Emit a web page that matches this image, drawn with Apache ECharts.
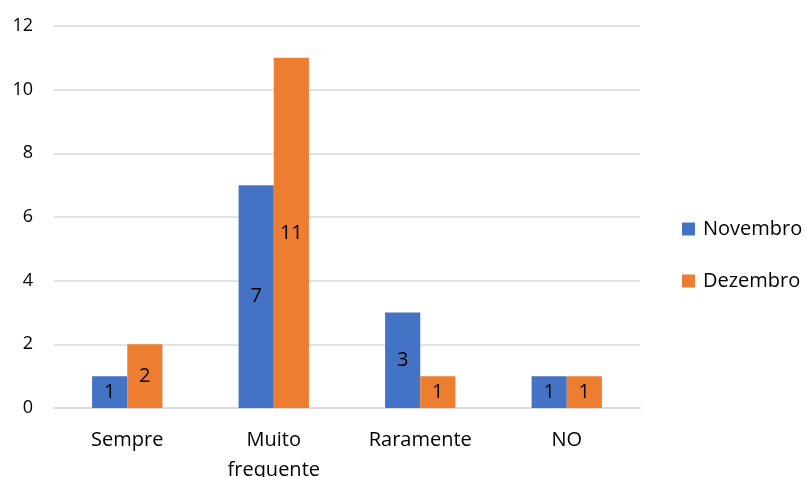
<!DOCTYPE html>
<html><head><meta charset="utf-8">
<script src="https://cdn.jsdelivr.net/npm/echarts@6/dist/echarts.min.js"></script>
<style>html,body{margin:0;padding:0;background:#fff}#c{width:807px;height:477px}</style>
</head><body><div id="c"></div>
<script>
const categories = ['Sempre', 'Muito\nfrequente', 'Raramente', 'NO'];
const novembro = [1, 7, 3, 1];
const dezembro = [2, 11, 1, 1];
const yTicks = {min: 0, max: 12, interval: 2};

const font = '"Open Sans", "Noto Sans", sans-serif';
const chart = echarts.init(document.getElementById('c'));
const labelCfg = {show: true, position: 'inside', color: '#000', fontSize: 20, fontFamily: font};
chart.setOption({
  animation: false,
  textStyle: {fontFamily: font},
  grid: {left: 54, right: 167, top: 26, bottom: 69, containLabel: false, outerBoundsMode: 'none'},
  legend: {
    orient: 'vertical', left: 682, top: 219, itemWidth: 13, itemHeight: 13, itemGap: 32,
    icon: 'rect', padding: 0,
    textStyle: {fontSize: 20, color: '#000', fontFamily: font, lineHeight: 13, padding: [0, 0, 0, 3]},
    data: ['Novembro', 'Dezembro']
  },
  xAxis: {
    type: 'category', data: categories,
    axisLine: {show: true, lineStyle: {color: '#d9d9d9', width: 1.5}},
    axisTick: {show: false},
    axisLabel: {color: '#000', fontSize: 20, margin: 17, lineHeight: 30, fontFamily: font}
  },
  yAxis: {
    type: 'value', min: yTicks.min, max: yTicks.max, interval: yTicks.interval,
    axisLine: {show: false}, axisTick: {show: false},
    splitLine: {lineStyle: {color: '#d9d9d9', width: 1.5}},
    axisLabel: {color: '#000', fontSize: 18, margin: 21, fontFamily: font}
  },
  series: [
    {name: 'Novembro', type: 'bar', data: novembro, barGap: '0%', barCategoryGap: '52%',
     itemStyle: {color: '#4472C4'}, label: labelCfg},
    {name: 'Dezembro', type: 'bar', data: dezembro,
     itemStyle: {color: '#ED7D31'}, label: labelCfg}
  ]
});
</script></body></html>
